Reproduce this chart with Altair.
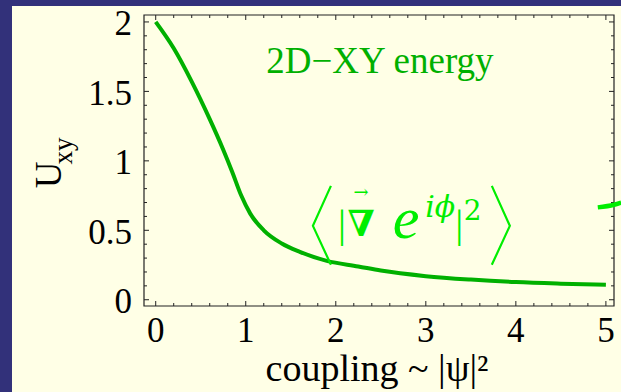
import altair as alt
import pandas as pd

# --- data -------------------------------------------------------------
coupling = [0, 0.2, 0.4, 0.6, 0.75, 0.85, 0.95, 1.05, 1.2, 1.4, 1.6, 1.9,
            2.25, 2.5, 3.0, 3.5, 4.0, 4.5, 5.0]
u_xy = [2.0, 1.81, 1.57, 1.30, 1.08, 0.92, 0.75, 0.62, 0.50, 0.405, 0.345,
        0.28, 0.24, 0.21, 0.17, 0.145, 0.127, 0.116, 0.108]

x_ticks = [0, 1, 2, 3, 4, 5]
x_tick_labels = ["0", "1", "2", "3", "4", "5"]
y_ticks = [0, 0.5, 1, 1.5, 2]
y_tick_labels = ["0", "0.5", "1", "1.5", "2"]
x_minor = [round(i * 0.2, 2) for i in range(1, 25) if i % 5 != 0]
y_minor = [round(i * 0.1, 2) for i in range(1, 20) if i % 5 != 0]

# bracket outlines of the <...> annotation (data units)
lbr_x = [1.946, 1.746, 1.946]
rbr_x = [3.733, 3.933, 3.733]
br_y = [0.82, 0.532, 0.252]
# fragment of a curve entering at the right edge
frag_x = [4.91, 5.09, 5.17]
frag_y = [0.665, 0.684, 0.70]

W, H = 470, 291
PAD_L, PAD_T = 144, 15
XDOM = [-0.13, 5.09]
YDOM = [-0.045, 2.05]

DARK = "#32317A"
CREAM = "#FFFFE6"
CURVE = "#00B000"
BRIGHT = "#00EE00"
FRAME = "#222222"
SERIF = "Liberation Serif"

curve_df = pd.DataFrame({"x": coupling, "y": u_xy})
xs = alt.Scale(domain=XDOM, nice=False, zero=False)
ys = alt.Scale(domain=YDOM, nice=False, zero=False)

one = pd.DataFrame({"a": [0]})

# cream panel behind everything
panel = alt.Chart(one).mark_rect(color=CREAM).encode(
    x=alt.value(12 - PAD_L), x2=alt.value(621 - PAD_L),
    y=alt.value(6 - PAD_T), y2=alt.value(392 - PAD_T))

# plot frame
frame = alt.Chart(one).mark_rect(fill=None, stroke=FRAME, strokeWidth=1.2).encode(
    x=alt.value(0), x2=alt.value(W), y=alt.value(0), y2=alt.value(H))

curve = alt.Chart(curve_df).mark_line(
    color=CURVE, strokeWidth=4, interpolate="monotone", clip=False).encode(
    x=alt.X("x:Q", scale=xs, axis=None),
    y=alt.Y("y:Q", scale=ys, axis=None),
)

def tick_layers(vals, length):
    d = pd.DataFrame({"v": vals})
    base = alt.Chart(d).mark_rule(color=FRAME, strokeWidth=1)
    bx = base.encode(x=alt.X("v:Q", scale=xs, axis=None),
                     y=alt.value(H), y2=alt.value(H - length))
    tx = base.encode(x=alt.X("v:Q", scale=xs, axis=None),
                     y=alt.value(0), y2=alt.value(length))
    return [bx, tx]

def ytick_layers(vals, length):
    d = pd.DataFrame({"v": vals})
    base = alt.Chart(d).mark_rule(color=FRAME, strokeWidth=1)
    lx = base.encode(y=alt.Y("v:Q", scale=ys, axis=None),
                     x=alt.value(0), x2=alt.value(length))
    rx = base.encode(y=alt.Y("v:Q", scale=ys, axis=None),
                     x=alt.value(W), x2=alt.value(W - length))
    return [lx, rx]

ticks = (tick_layers(x_ticks, 5) + tick_layers(x_minor, 3)
         + ytick_layers(y_ticks, 5) + ytick_layers(y_minor, 3))

# tick labels
xlab = alt.Chart(pd.DataFrame({"v": x_ticks, "t": x_tick_labels})).mark_text(
    font=SERIF, fontSize=35, color="black", baseline="alphabetic",
    align="center").encode(
    x=alt.X("v:Q", scale=xs, axis=None), y=alt.value(H + 36), text="t:N")
ylab = alt.Chart(pd.DataFrame({"v": y_ticks, "t": y_tick_labels})).mark_text(
    font=SERIF, fontSize=35, color="black", baseline="alphabetic", align="right",
    dy=13.5).encode(
    y=alt.Y("v:Q", scale=ys, axis=None), x=alt.value(-12), text="t:N")

def bracket(xv):
    d = pd.DataFrame({"x": xv, "y": br_y, "o": [0, 1, 2]})
    return alt.Chart(d).mark_line(color=BRIGHT, strokeWidth=2.2).encode(
        x=alt.X("x:Q", scale=xs, axis=None),
        y=alt.Y("y:Q", scale=ys, axis=None), order="o:Q")

frag = alt.Chart(pd.DataFrame({"x": frag_x, "y": frag_y})).mark_line(
    color=BRIGHT, strokeWidth=4.5, interpolate="monotone", clip=False).encode(
    x=alt.X("x:Q", scale=xs, axis=None), y=alt.Y("y:Q", scale=ys, axis=None))

def label(text, x, y, size, color, font=SERIF, style="normal", weight="normal",
          baseline="alphabetic", align="center"):
    d = pd.DataFrame({"t": [text], "x": [x], "y": [y]})
    return alt.Chart(d).mark_text(
        font=font, fontSize=size, color=color, fontStyle=style,
        fontWeight=weight, baseline=baseline, align=align).encode(
        x=alt.X("x:Q", scale=xs, axis=None),
        y=alt.Y("y:Q", scale=ys, axis=None), text="t:N")

annots = [
    label("2D\u2212XY energy", 2.49, 1.63, 37, CURVE),
    label("|", 2.07, 0.54, 40, BRIGHT, baseline="middle"),
    label("\u2207", 2.28, 0.46, 36, BRIGHT, font="DejaVu Serif", weight="bold"),
    label("\u2192", 2.28, 0.735, 18, BRIGHT, font="DejaVu Serif"),
    label("e", 2.78, 0.446, 60, BRIGHT, style="italic"),
    label("i\u03d5", 3.16, 0.597, 30, BRIGHT, font="DejaVu Serif", style="italic"),
    label("|", 3.37, 0.54, 40, BRIGHT, baseline="middle"),
    label("2", 3.52, 0.575, 28, BRIGHT, font="DejaVu Serif"),
]

def ptext(text, px, py, size, angle=0, align="center", baseline="middle"):
    d = pd.DataFrame({"t": [text]})
    kw = dict(font=SERIF, fontSize=size, color="black", align=align,
              baseline=baseline)
    if angle:
        kw["angle"] = angle
    return alt.Chart(d).mark_text(**kw).encode(
        x=alt.value(px - PAD_L), y=alt.value(py - PAD_T), text="t:N")

titles = [
    ptext("U", 50, 175, 37, angle=270),
    ptext("xy", 64, 151, 27, angle=270),
    ptext("coupling ~ |\u03c8|\u00b2", 377, 381, 38, baseline="alphabetic"),
]

chart = alt.layer(panel, frame, curve, *ticks, xlab, ylab,
                  bracket(lbr_x), bracket(rbr_x),
                  frag, *annots, *titles).properties(
    width=W, height=H,
    padding={"left": PAD_L, "top": PAD_T, "right": 621 - PAD_L - W,
             "bottom": 392 - PAD_T - H},
    autosize=alt.AutoSizeParams(type="none"),
    background=DARK,
).configure_view(stroke=None)

chart.save("out.html", embed_options={"renderer": "svg", "actions": False})
